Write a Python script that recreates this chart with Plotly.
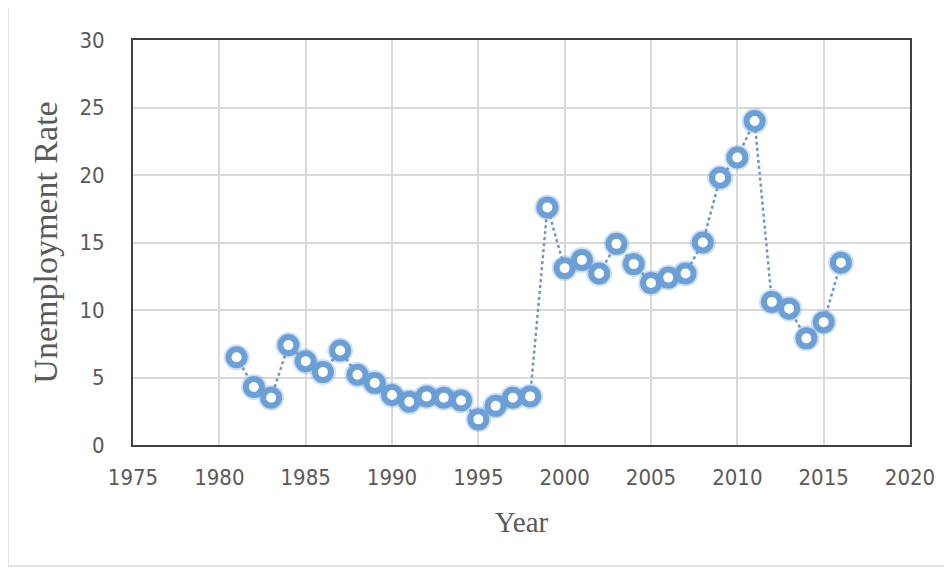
import plotly.graph_objects as go

years = list(range(1981, 2017))
rates = [6.5, 4.3, 3.5, 7.4, 6.2, 5.4, 7.0, 5.2, 4.6, 3.7,
         3.2, 3.6, 3.5, 3.3, 1.9, 2.9, 3.5, 3.6, 17.6, 13.1,
         13.7, 12.7, 14.9, 13.4, 12.0, 12.4, 12.7, 15.0, 19.8, 21.3,
         24.0, 10.6, 10.1, 7.9, 9.1, 13.5]
x_ticks = [1975, 1980, 1985, 1990, 1995, 2000, 2005, 2010, 2015, 2020]
y_ticks = [0, 5, 10, 15, 20, 25, 30]

fig = go.Figure()
# soft halo behind markers (gear-like edge)
fig.add_trace(go.Scatter(
    x=years, y=rates, mode="markers",
    marker=dict(symbol="circle", size=26, color="rgba(120,165,220,0.35)", line=dict(width=0)),
    hoverinfo="skip", showlegend=False))
fig.add_trace(go.Scatter(
    x=years, y=rates, mode="lines+markers",
    line=dict(color="#6797d3", width=2.5, dash="dot"),
    marker=dict(symbol="circle", size=16, color="white",
                line=dict(color="#6a9fd8", width=6)),
    showlegend=False))

tick_font = dict(family="Liberation Sans Narrow, DejaVu Sans Condensed, sans-serif", size=22, color="#595959")
serif = "Liberation Serif, Times New Roman, serif"

fig.update_layout(
    width=944, height=563,
    margin=dict(l=125, r=42, t=32, b=126),
    paper_bgcolor="white", plot_bgcolor="white",
    xaxis=dict(range=[1975, 2020], tickvals=x_ticks, ticktext=[str(v) for v in x_ticks],
               showgrid=True, gridcolor="#d9d9d9", gridwidth=1.5, zeroline=False,
               showline=True, linecolor="#404040", linewidth=2, mirror=True,
               ticks="", tickfont=tick_font, ticklabelstandoff=12,
               title=dict(text="Year", font=dict(family=serif, size=29, color="#595959"), standoff=22)),
    yaxis=dict(range=[0, 30], tickvals=y_ticks, ticktext=[str(v) for v in y_ticks],
               showgrid=True, gridcolor="#d9d9d9", gridwidth=1.5, zeroline=False,
               showline=True, linecolor="#404040", linewidth=2, mirror=True,
               ticks="", tickfont=tick_font, ticklabelstandoff=22,
               title=dict(text="Unemployment Rate", font=dict(family=serif, size=34, color="#595959"), standoff=12)),
    shapes=[dict(type="rect", xref="paper", yref="paper",
                 x0=(8 - 133) / 777, x1=(950 - 133) / 777,
                 y0=(445 - 566) / 405, y1=(445 - 7) / 405,
                 line=dict(color="#d9d9d9", width=1.5), layer="below")],
)

fig.write_html("out.html")
